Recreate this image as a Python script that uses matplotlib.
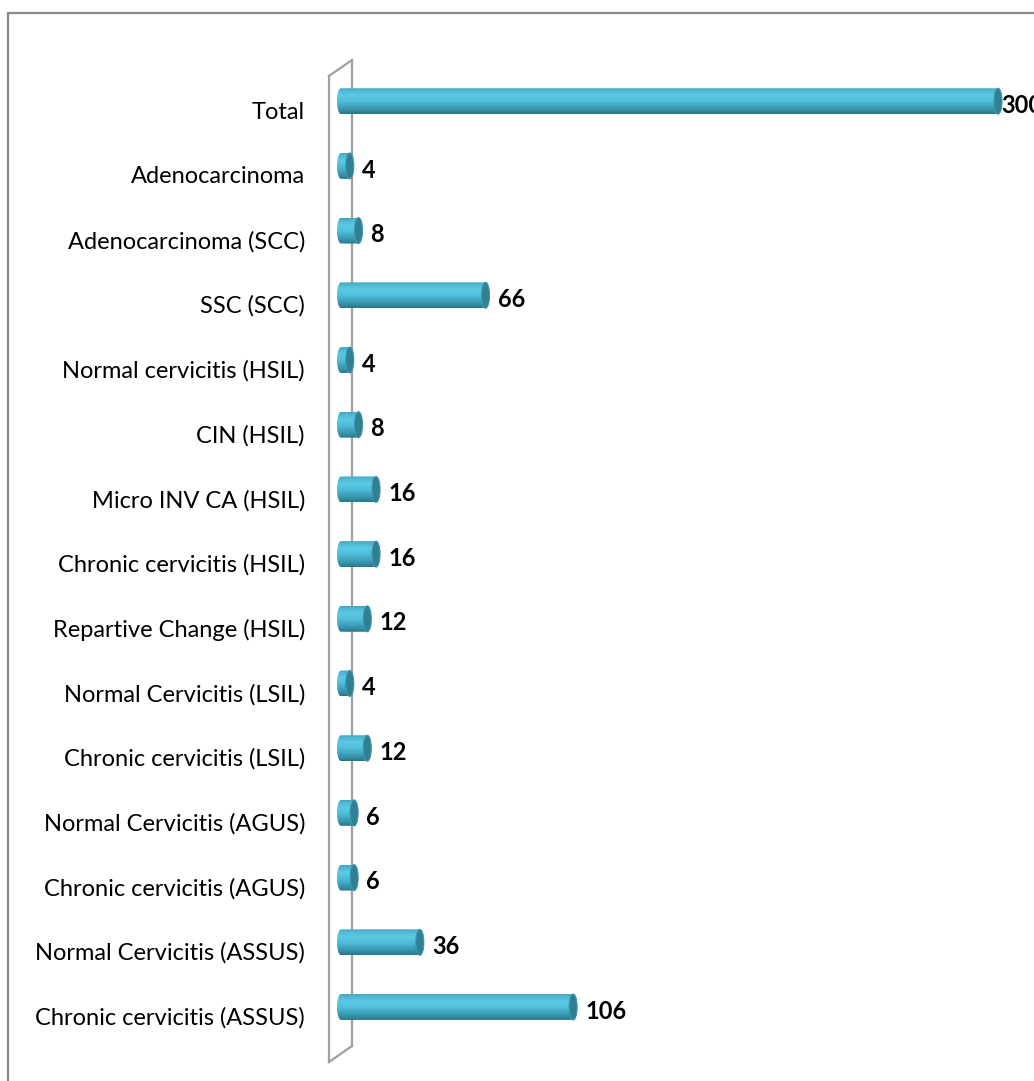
import numpy as np
import matplotlib
matplotlib.use('Agg')
import matplotlib.pyplot as plt
from matplotlib.path import Path
from matplotlib.patches import PathPatch, Ellipse, Rectangle
from matplotlib.colors import LinearSegmentedColormap
from matplotlib.lines import Line2D
from matplotlib.transforms import ScaledTranslation

categories = ["Chronic cervicitis (ASSUS)", "Normal Cervicitis (ASSUS)",
              "Chronic cervicitis (AGUS)", "Normal Cervicitis (AGUS)",
              "Chronic cervicitis (LSIL)", "Normal Cervicitis (LSIL)",
              "Repartive Change (HSIL)", "Chronic cervicitis (HSIL)",
              "Micro INV CA (HSIL)", "CIN (HSIL)", "Normal cervicitis (HSIL)",
              "SSC (SCC)", "Adenocarcinoma (SCC)", "Adenocarcinoma", "Total"]
values = [106, 36, 6, 6, 12, 4, 12, 16, 16, 8, 4, 66, 8, 4, 300]

W, H = 1034, 1081
fig = plt.figure(figsize=(W / 100, H / 100), dpi=100)
fig.patch.set_facecolor('white')

# layout (pixels)
ppx = 2.19          # pixels per data unit (x)
x0_px = 341         # pixel of x = 0
xmin, xmax = -8, 315
ppy = 64.7          # pixels per category
y0_top = 1007       # pixel (from top) of first category centre
ymin, ymax = -1, 15
axl = x0_px + xmin * ppx
axr = x0_px + xmax * ppx
axb = (H - y0_top) + ymin * ppy
axt = (H - y0_top) + ymax * ppy
ax = fig.add_axes([axl / W, axb / H, (axr - axl) / W, (axt - axb) / H])
ax.patch.set_visible(False)

bar_h = 0.40
cap_w = 8 / ppx

cmap = LinearSegmentedColormap.from_list(
    'cyl', [(0.0, '#2a788c'), (0.22, '#3a9bb3'), (0.5, '#50bfdc'),
            (0.72, '#5bc9e5'), (0.9, '#50b9d5'), (1.0, '#42a6c0')])
grad = np.linspace(0, 1, 64).reshape(-1, 1)

t_left = np.linspace(np.pi / 2, 3 * np.pi / 2, 30)
t_right = np.linspace(-np.pi / 2, np.pi / 2, 30)
for i, v in enumerate(values):
    y = i
    a = cap_w / 2
    b = bar_h / 2
    left = np.column_stack([a * np.cos(t_left), y + b * np.sin(t_left)])
    right = np.column_stack([v + a * np.cos(t_right), y + b * np.sin(t_right)])
    verts = np.vstack([left, right, left[:1]])
    codes = [Path.MOVETO] + [Path.LINETO] * (len(verts) - 2) + [Path.CLOSEPOLY]
    patch = PathPatch(Path(verts, codes), facecolor='none', edgecolor='none', zorder=2)
    ax.add_patch(patch)
    im = ax.imshow(grad, extent=[-a, v + a, y - b, y + b], origin='lower',
                   aspect='auto', cmap=cmap, zorder=2, interpolation='bilinear')
    im.set_clip_path(patch)
    cap = Ellipse((v, y), cap_w, bar_h, facecolor='#317f92',
                  edgecolor='#3d97ad', lw=0.8, zorder=3)
    ax.add_patch(cap)
    dx = 8 if v < max(values) else -1
    ax.annotate(str(v), (v + a, y), xytext=(dx * 0.72, -3), textcoords='offset points',
                ha='left', va='center', fontsize=17, fontweight='bold',
                family='Lato', color='black', annotation_clip=False)

ax.set_xlim(xmin, xmax)
ax.set_ylim(ymin, ymax)
ax.set_yticks(range(len(categories)))
ax.set_yticklabels(categories, fontsize=17, family='Lato', color='black')
ax.tick_params(axis='y', length=0, pad=(axl - 305) * 0.72)
shift = ScaledTranslation(0, -9 / 100, fig.dpi_scale_trans)
for lbl in ax.get_yticklabels():
    lbl.set_transform(lbl.get_transform() + shift)
ax.set_xticks([])
for s in ax.spines.values():
    s.set_visible(False)

# side wall
def fl(xs, ys, **kw):
    fig.add_artist(Line2D([x / W for x in xs], [1 - yy / H for yy in ys],
                          transform=fig.transFigure, **kw))

wall = dict(color='#a0a0a0', lw=1.6, zorder=-1)
fl([329, 329], [76, 1062], **wall)
fl([352, 352], [60, 1046], **wall)
fl([329, 352], [76, 60], **wall)
fl([329, 352], [1062, 1046], **wall)

# outer border
fig.add_artist(Rectangle((8 / W, -0.1), 1.2, (H - 13) / H + 0.1,
                         transform=fig.transFigure, fill=False,
                         edgecolor='#888888', lw=1.6, zorder=-1))

fig.savefig('out.png', dpi=100)
